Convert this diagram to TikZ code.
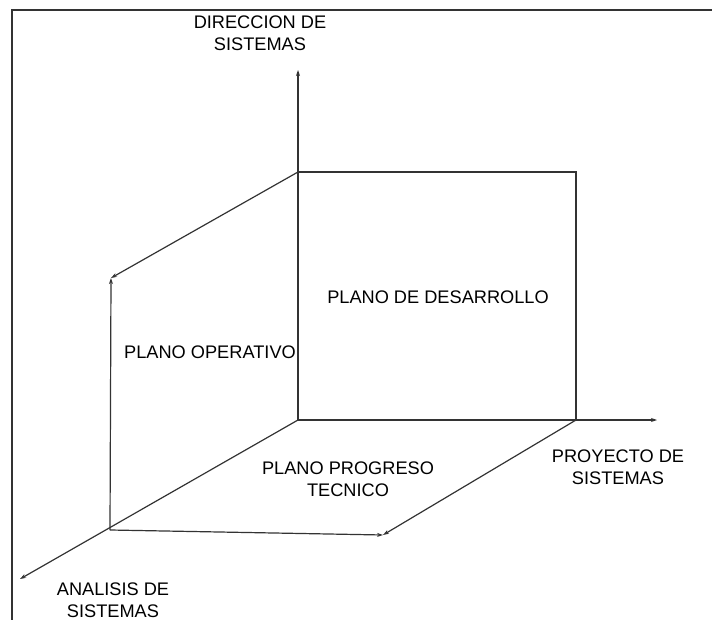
\documentclass[tikz,border=0pt]{standalone}
\usepackage{fontspec}
\setmainfont{Liberation Sans}
\usetikzlibrary{positioning,arrows.meta}

\begin{document}
\begin{tikzpicture}[x=1pt,y=-1pt,line width=1.2pt,
  axis/.style={-{Stealth[length=6pt,width=4pt]},black!80},
  edge/.style={black!80},
  lbl/.style={align=center,font=\fontsize{18.2}{22}\selectfont,inner sep=0pt}]
\useasboundingbox (0,0) rectangle (712,620);
\draw[black!80,line width=1.5pt] (712,10) -- (12,10) -- (12,620);
% corners of the three planes
\coordinate (o) at (298,420);
\coordinate (top) at (298,172);
\coordinate (sqtr) at (576,172);
\coordinate (sqbr) at (576,420);
\coordinate (lb) at (110,530);
\coordinate (lt) at (111,278);
\coordinate (bb) at (383,535);
\coordinate (yend) at (298,70);
\coordinate (xend) at (657,420);
\coordinate (zend) at (20,579);
% labels
\node[lbl] (dir) at (260,33) {DIRECCION DE\\SISTEMAS};
\node[lbl] (pro) at (618,467) {PROYECTO DE\\SISTEMAS};
\node[lbl] (ana) at (113,600) {ANALISIS DE\\SISTEMAS};
\node[lbl] (des) at (438,297) {PLANO DE DESARROLLO};
\node[lbl] (ope) at (210,352) {PLANO OPERATIVO};
\node[lbl] (tec) at (348,479) {PLANO PROGRESO\\TECNICO};
% axes
\draw[axis] (o) -- (yend);
\draw[axis] (o) -- (xend);
\draw[axis] (o) -- (zend);
% planes
\draw[edge] (top) -- (sqtr) -- (sqbr);
\draw[axis] (top) -- (lt);
\draw[axis] (lb) -- (lt);
\draw[axis] (lb) -- (bb);
\draw[axis] (sqbr) -- (bb);
\end{tikzpicture}
\end{document}
